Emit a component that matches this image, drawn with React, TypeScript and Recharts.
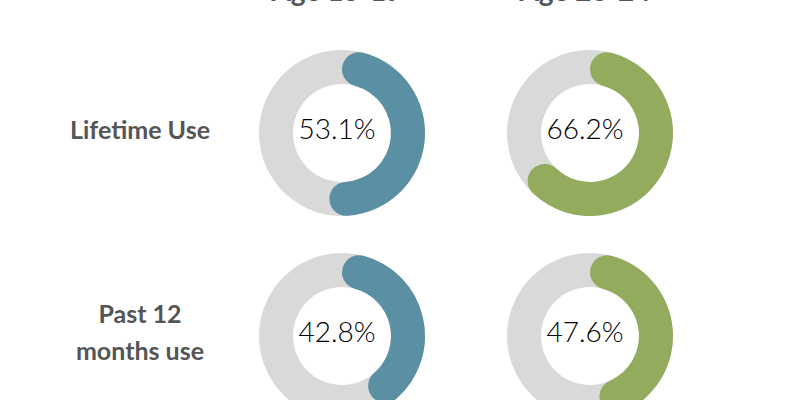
import { Cell, Pie, PieChart } from 'recharts';

const ageGroups = ['Age 15-19', 'Age 20-24'];
const measures = ['Lifetime Use', 'Past 12 months use'];
const measureLines = [['Lifetime Use'], ['Past 12', 'months use']];
// rows = measures, columns = age groups
const lifetimeUse = [53.1, 66.2];
const past12Months = [42.8, 47.6];
const values = [lifetimeUse, past12Months];
const colColors = ['#5b8fa3', '#93ab5d'];

const colX = [337, 585];
const rowY = [128, 331];
const OUTER = 83;
const INNER = 49;

export default function App() {
  return (
    <div
      style={{
        position: 'absolute',
        left: 0,
        top: 0,
        width: 802,
        height: 400,
        overflow: 'hidden',
        background: '#fff',
      }}
    >
      <PieChart width={802} height={400} style={{ position: 'absolute', left: 0, top: 0 }}>
        {measures.map((m, r) =>
          ageGroups.map((g, c) => (
            <Pie
              key={`bg-${m}-${g}`}
              data={[{ name: 'all', value: 100 }]}
              dataKey="value"
              cx={colX[c]}
              cy={rowY[r]}
              innerRadius={INNER}
              outerRadius={OUTER}
              startAngle={90}
              endAngle={-270}
              stroke="none"
              fill="#d9d9d9"
              isAnimationActive={false}
            />
          ))
        )}
        {measures.map((m, r) =>
          ageGroups.map((g, c) => (
            <Pie
              key={`fg-${m}-${g}`}
              data={[
                { name: 'value', value: values[r][c] },
                { name: 'rest', value: 100 - values[r][c] },
              ]}
              dataKey="value"
              cx={colX[c]}
              cy={rowY[r]}
              innerRadius={INNER}
              outerRadius={OUTER}
              startAngle={90}
              endAngle={-270}
              cornerRadius={17}
              stroke="none"
              isAnimationActive={false}
            >
              <Cell fill={colColors[c]} />
              <Cell fill="none" />
            </Pie>
          ))
        )}
      </PieChart>

      {ageGroups.map((g, c) => (
        <div
          key={g}
          style={{
            position: 'absolute',
            left: colX[c] - 120,
            width: 240,
            top: -27,
            textAlign: 'center',
            fontFamily: 'Lato, sans-serif',
            fontWeight: 700,
            fontSize: 28,
            lineHeight: '34px',
            color: '#555',
          }}
        >
          {g}
        </div>
      ))}

      {measureLines.map((lines, r) => (
        <div
          key={r}
          style={{
            position: 'absolute',
            left: 40,
            width: 200,
            top: rowY[r] - (lines.length * 37) / 2 + 1,
            textAlign: 'center',
            fontFamily: 'Lato, sans-serif',
            fontWeight: 700,
            fontSize: 25,
            lineHeight: '37px',
            color: '#555',
          }}
        >
          {lines.map((l) => (
            <div key={l}>{l}</div>
          ))}
        </div>
      ))}

      {values.map((row, r) =>
        row.map((v, c) => (
          <div
            key={`${r}-${c}`}
            style={{
              position: 'absolute',
              left: colX[c] - 60,
              width: 120,
              top: rowY[r] - 20,
              textAlign: 'center',
              fontFamily: 'Lato, sans-serif',
              fontWeight: 300,
              fontSize: 28,
              lineHeight: '40px',
              color: '#000',
            }}
          >
            {v.toFixed(1)}%
          </div>
        ))
      )}
    </div>
  );
}
